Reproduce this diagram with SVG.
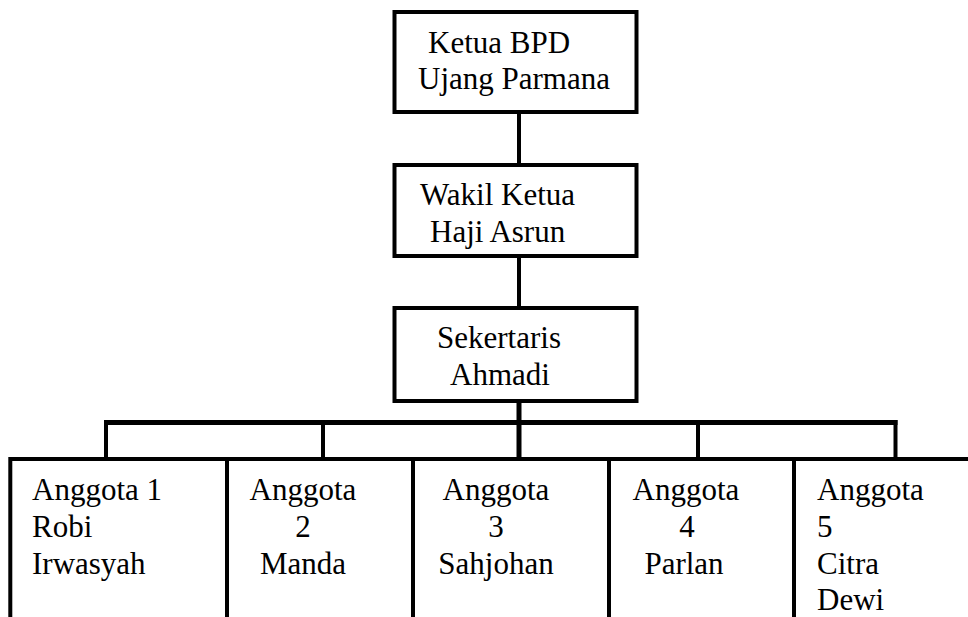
<svg xmlns="http://www.w3.org/2000/svg" width="968" height="617" viewBox="0 0 968 617">
<style>
.box{fill:#fff;stroke:#000;stroke-width:4}
.ln{fill:none;stroke:#000;stroke-width:4}
.bus{fill:none;stroke:#000;stroke-width:5}
text{font-family:"Liberation Serif","Times New Roman",serif;font-size:31px;fill:#000}
.m{text-anchor:middle}
</style>
<rect width="968" height="617" fill="#fff"/>
<g id="connectors">
<line class="ln" x1="519" y1="112" x2="519" y2="165"/>
<line class="ln" x1="519" y1="256" x2="519" y2="308"/>
<line class="bus" x1="519" y1="401" x2="519" y2="459"/>
<line class="bus" x1="104" y1="422.5" x2="897.5" y2="422.5"/>
<line class="ln" x1="106" y1="420" x2="106" y2="459"/>
<line class="ln" x1="323" y1="422" x2="323" y2="459"/>
<line class="ln" x1="698" y1="422" x2="698" y2="459"/>
<line class="ln" x1="895.5" y1="420" x2="895.5" y2="459"/>
</g>
<g id="ketua">
<rect class="box" x="394.5" y="12" width="242" height="100"/>
<text x="428" y="53">Ketua BPD</text>
<text x="418" y="89">Ujang Parmana</text>
</g>
<g id="wakil">
<rect class="box" x="394.5" y="165" width="242" height="91"/>
<text x="420" y="205">Wakil Ketua</text>
<text x="430" y="242">Haji Asrun</text>
</g>
<g id="sekertaris">
<rect class="box" x="394.5" y="308" width="242" height="93"/>
<text x="437" y="348">Sekertaris</text>
<text x="450" y="385">Ahmadi</text>
</g>
<g id="anggota1">
<path class="ln" d="M10.3 617 V459 H227"/>
<text x="32" y="500">Anggota 1</text>
<text x="32" y="537">Robi</text>
<text x="32" y="573.5">Irwasyah</text>
</g>
<g id="anggota2">
<path class="ln" d="M227 617 V459 H413"/>
<text class="m" x="303" y="500">Anggota</text>
<text class="m" x="303" y="537">2</text>
<text class="m" x="303" y="573.5">Manda</text>
</g>
<g id="anggota3">
<path class="ln" d="M413 617 V459 H609"/>
<text class="m" x="496" y="500">Anggota</text>
<text class="m" x="496" y="537">3</text>
<text class="m" x="496" y="573.5">Sahjohan</text>
</g>
<g id="anggota4">
<path class="ln" d="M609 617 V459 H794"/>
<text class="m" x="686" y="500">Anggota</text>
<text class="m" x="687" y="537">4</text>
<text class="m" x="684" y="573.5">Parlan</text>
</g>
<g id="anggota5">
<path class="ln" d="M794 617 V459 H968"/>
<text x="817" y="500">Anggota</text>
<text x="817" y="537">5</text>
<text x="817" y="573.5">Citra</text>
<text x="817" y="610">Dewi</text>
</g>
</svg>
